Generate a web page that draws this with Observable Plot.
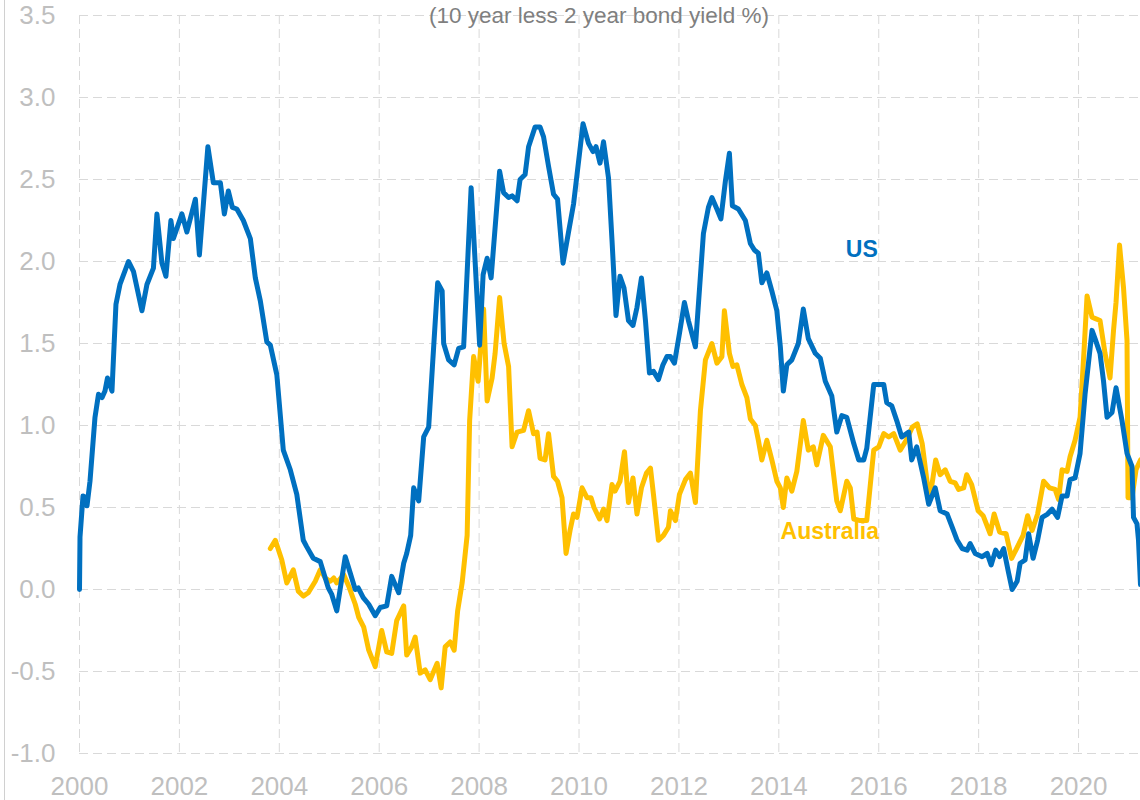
<!DOCTYPE html>
<html><head><meta charset="utf-8">
<script src="https://cdn.jsdelivr.net/npm/d3@7"></script>
<script src="https://cdn.jsdelivr.net/npm/@observablehq/plot@0.6"></script>
<style>
body{margin:0;background:#fff;}
#wrap{position:relative;width:1140px;height:800px;overflow:hidden;background:#fff;}
#border{position:absolute;left:4px;top:0;width:1px;height:800px;background:#d0d0d0;}
</style></head><body><div id="wrap"><div id="border"></div></div>
<script>
const titleText = "(10 year less 2 year bond yield %)";
const xTicks = [2000,2002,2004,2006,2008,2010,2012,2014,2016,2018,2020];
const yTicks = [-1,-0.5,0,0.5,1,1.5,2,2.5,3,3.5];

const usYear = [2000.00,2000.01,2000.07,2000.13,2000.15,2000.21,2000.31,2000.38,2000.45,2000.51,2000.56,2000.65,2000.73,2000.81,2000.98,2001.08,2001.25,2001.35,2001.48,2001.55,2001.65,2001.73,2001.83,2001.88,2002.05,2002.15,2002.32,2002.40,2002.57,2002.68,2002.82,2002.90,2002.98,2003.06,2003.15,2003.28,2003.42,2003.52,2003.62,2003.75,2003.82,2003.95,2004.08,2004.22,2004.35,2004.48,2004.55,2004.68,2004.82,2004.98,2005.05,2005.15,2005.32,2005.42,2005.52,2005.58,2005.68,2005.79,2005.92,2006.02,2006.15,2006.25,2006.39,2006.49,2006.55,2006.63,2006.69,2006.79,2006.89,2006.99,2007.09,2007.17,2007.26,2007.29,2007.39,2007.50,2007.59,2007.69,2007.84,2008.01,2008.08,2008.16,2008.24,2008.41,2008.49,2008.59,2008.66,2008.76,2008.82,2008.92,2008.99,2009.12,2009.22,2009.29,2009.39,2009.49,2009.57,2009.68,2009.79,2009.89,2009.96,2010.08,2010.19,2010.28,2010.34,2010.42,2010.49,2010.59,2010.66,2010.74,2010.82,2010.90,2010.99,2011.08,2011.16,2011.25,2011.33,2011.41,2011.49,2011.59,2011.68,2011.76,2011.83,2011.91,2012.01,2012.11,2012.19,2012.33,2012.49,2012.59,2012.66,2012.76,2012.84,2012.93,2013.01,2013.07,2013.19,2013.33,2013.43,2013.51,2013.59,2013.66,2013.76,2013.86,2013.96,2014.03,2014.09,2014.16,2014.26,2014.39,2014.49,2014.59,2014.73,2014.83,2014.93,2015.06,2015.16,2015.26,2015.36,2015.50,2015.60,2015.70,2015.76,2015.90,2016.10,2016.16,2016.26,2016.36,2016.46,2016.60,2016.66,2016.76,2016.90,2017.00,2017.13,2017.23,2017.37,2017.47,2017.57,2017.67,2017.77,2017.83,2017.93,2018.07,2018.17,2018.25,2018.34,2018.42,2018.50,2018.60,2018.67,2018.77,2018.83,2018.93,2019.00,2019.09,2019.18,2019.27,2019.38,2019.47,2019.58,2019.67,2019.77,2019.83,2019.93,2020.03,2020.13,2020.27,2020.33,2020.43,2020.50,2020.57,2020.67,2020.75,2020.87,2020.97,2021.07,2021.10,2021.17,2021.20,2021.24];
const usValue = [0.00,0.32,0.57,0.56,0.51,0.66,1.05,1.19,1.17,1.21,1.29,1.21,1.74,1.86,2.00,1.94,1.70,1.86,1.96,2.29,1.99,1.91,2.25,2.14,2.29,2.18,2.38,2.04,2.70,2.48,2.48,2.29,2.43,2.33,2.32,2.25,2.14,1.90,1.76,1.51,1.49,1.31,0.85,0.73,0.58,0.30,0.26,0.19,0.17,0.01,-0.03,-0.13,0.20,0.10,0.00,0.01,-0.05,-0.09,-0.16,-0.11,-0.10,0.08,-0.02,0.16,0.22,0.33,0.62,0.54,0.93,0.99,1.48,1.87,1.82,1.50,1.40,1.37,1.47,1.48,2.45,1.49,1.92,2.02,1.90,2.55,2.42,2.39,2.40,2.37,2.50,2.53,2.70,2.82,2.82,2.76,2.58,2.41,2.38,1.99,2.18,2.35,2.53,2.84,2.72,2.67,2.70,2.60,2.73,2.51,2.13,1.67,1.91,1.84,1.64,1.61,1.72,1.90,1.64,1.32,1.33,1.28,1.37,1.42,1.42,1.38,1.56,1.75,1.64,1.48,2.17,2.33,2.39,2.32,2.26,2.49,2.66,2.34,2.32,2.25,2.11,2.07,2.05,1.87,1.93,1.82,1.70,1.48,1.21,1.37,1.40,1.50,1.71,1.53,1.44,1.41,1.27,1.18,0.96,1.06,1.05,0.89,0.79,0.79,0.86,1.25,1.25,1.14,1.12,1.03,0.93,0.96,0.79,0.87,0.68,0.52,0.62,0.48,0.46,0.38,0.30,0.25,0.24,0.28,0.22,0.20,0.22,0.15,0.24,0.20,0.25,0.10,0.00,0.05,0.16,0.18,0.34,0.19,0.30,0.44,0.46,0.49,0.44,0.57,0.57,0.67,0.68,0.83,1.19,1.58,1.53,1.44,1.27,1.05,1.08,1.23,1.03,0.83,0.75,0.44,0.40,0.30,0.03];

const auYear = [2003.82,2003.92,2004.05,2004.15,2004.28,2004.38,2004.48,2004.58,2004.72,2004.82,2004.92,2005.02,2005.09,2005.15,2005.29,2005.39,2005.52,2005.59,2005.69,2005.79,2005.92,2006.05,2006.15,2006.25,2006.35,2006.49,2006.55,2006.65,2006.72,2006.82,2006.92,2007.02,2007.16,2007.24,2007.32,2007.42,2007.50,2007.57,2007.66,2007.76,2007.81,2007.89,2007.98,2008.02,2008.09,2008.16,2008.26,2008.32,2008.41,2008.50,2008.59,2008.66,2008.76,2008.89,2008.99,2009.09,2009.16,2009.22,2009.32,2009.39,2009.49,2009.57,2009.66,2009.74,2009.82,2009.89,2009.96,2010.06,2010.16,2010.24,2010.30,2010.41,2010.49,2010.56,2010.66,2010.72,2010.82,2010.91,2010.99,2011.08,2011.16,2011.25,2011.35,2011.43,2011.49,2011.59,2011.69,2011.79,2011.83,2011.93,2012.01,2012.13,2012.23,2012.33,2012.43,2012.53,2012.66,2012.76,2012.86,2012.91,2013.01,2013.08,2013.16,2013.26,2013.36,2013.43,2013.53,2013.59,2013.66,2013.76,2013.86,2013.96,2014.03,2014.09,2014.16,2014.26,2014.36,2014.49,2014.59,2014.69,2014.76,2014.89,2015.03,2015.16,2015.23,2015.36,2015.43,2015.50,2015.63,2015.76,2015.90,2016.00,2016.10,2016.20,2016.30,2016.43,2016.57,2016.67,2016.77,2016.87,2016.97,2017.04,2017.14,2017.23,2017.33,2017.43,2017.53,2017.60,2017.70,2017.76,2017.86,2017.99,2018.09,2018.23,2018.31,2018.42,2018.55,2018.66,2018.76,2018.89,2018.98,2019.07,2019.18,2019.30,2019.42,2019.53,2019.60,2019.67,2019.77,2019.83,2019.93,2020.03,2020.11,2020.17,2020.27,2020.35,2020.43,2020.53,2020.63,2020.70,2020.75,2020.82,2020.90,2020.97,2020.99,2021.07,2021.15,2021.24];
const auValue = [0.25,0.30,0.18,0.04,0.12,-0.01,-0.04,-0.02,0.05,0.12,0.07,0.05,0.07,0.04,0.09,0.02,-0.09,-0.17,-0.23,-0.37,-0.47,-0.25,-0.38,-0.39,-0.19,-0.10,-0.40,-0.35,-0.29,-0.51,-0.49,-0.55,-0.45,-0.60,-0.35,-0.32,-0.37,-0.13,0.04,0.33,1.03,1.42,1.27,1.43,1.71,1.15,1.29,1.44,1.78,1.50,1.36,0.87,0.96,0.97,1.09,0.95,0.96,0.80,0.79,0.95,0.69,0.66,0.56,0.22,0.36,0.46,0.44,0.62,0.56,0.56,0.50,0.43,0.49,0.42,0.64,0.60,0.66,0.84,0.53,0.68,0.46,0.62,0.71,0.74,0.58,0.30,0.33,0.38,0.48,0.42,0.58,0.67,0.71,0.53,1.09,1.40,1.50,1.38,1.42,1.70,1.44,1.36,1.37,1.25,1.17,1.04,1.00,0.91,0.79,0.91,0.79,0.66,0.62,0.50,0.68,0.60,0.72,1.03,0.85,0.87,0.76,0.94,0.87,0.54,0.48,0.66,0.62,0.43,0.42,0.42,0.85,0.87,0.95,0.93,0.95,0.85,0.92,0.99,1.01,0.89,0.65,0.59,0.79,0.70,0.73,0.66,0.65,0.61,0.62,0.70,0.64,0.48,0.45,0.34,0.46,0.35,0.34,0.19,0.25,0.33,0.45,0.36,0.46,0.66,0.62,0.61,0.55,0.73,0.72,0.81,0.91,1.05,1.46,1.79,1.66,1.65,1.64,1.44,1.29,1.58,1.75,2.10,1.84,1.52,0.56,0.56,0.73,0.79];

const labelNames = ["US", "Australia"];
const labelYear = [2015.66, 2015.02];
const labelValue = [2.07, 0.35];

const us = usYear.map((t, i) => ({year: t, value: usValue[i]}));
const au = auYear.map((t, i) => ({year: t, value: auValue[i]}));
const usLabel = [{year: labelYear[0], value: labelValue[0], name: labelNames[0]}];
const auLabel = [{year: labelYear[1], value: labelValue[1], name: labelNames[1]}];

const US_COLOR = "#0070C0", AU_COLOR = "#FFC000";
const gridStyle = {stroke: "#d9d9d9", strokeOpacity: 1, strokeDasharray: "9,5", strokeWidth: 1};
const lineStyle = {x: "year", y: "value", strokeWidth: 5, strokeLinejoin: "round", strokeLinecap: "round"};

const chart = Plot.plot({
  width: 1140, height: 800,
  marginLeft: 79, marginRight: 0, marginTop: 15, marginBottom: 47,
  x: {domain: [2000, 2021.24]},
  y: {domain: [-1, 3.5]},
  style: {fontFamily: "Arial, 'Liberation Sans', sans-serif", background: "transparent", overflow: "visible"},
  marks: [
    Plot.gridX(xTicks, gridStyle),
    Plot.gridY(yTicks, gridStyle),
    Plot.axisX(xTicks, {tickSize: 0, tickPadding: 23, fontSize: 26, fill: "#bfbfbf", tickFormat: d => String(d), label: null}),
    Plot.axisY(yTicks, {tickSize: 0, tickPadding: 24, fontSize: 26, fill: "#bfbfbf", tickFormat: d => d.toFixed(1), label: null}),
    Plot.line(au, {...lineStyle, stroke: AU_COLOR}),
    Plot.line(us, {...lineStyle, stroke: US_COLOR}),
    Plot.text(usLabel, {x: "year", y: "value", text: "name", fill: US_COLOR, fontWeight: "bold", fontSize: 23}),
    Plot.text(auLabel, {x: "year", y: "value", text: "name", fill: AU_COLOR, fontWeight: "bold", fontSize: 23}),
    Plot.text([titleText], {frameAnchor: "top", lineAnchor: "middle", dx: -11, dy: 0, text: d => d, fontSize: 22.5, fill: "#7f7f7f"})
  ]
});
document.getElementById("wrap").appendChild(chart);
</script>
</body></html>
